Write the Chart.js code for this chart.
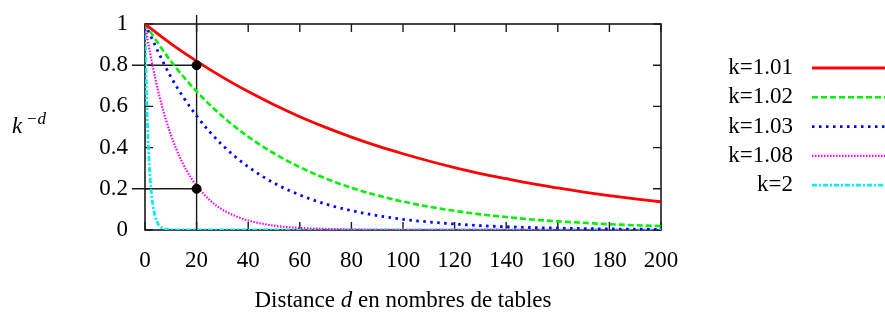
<!DOCTYPE html>
<html>
<head>
<meta charset="utf-8">
<script src="https://cdn.jsdelivr.net/npm/chart.js@4/dist/chart.umd.min.js"></script>
<style>
  html, body { margin: 0; padding: 0; background: #fff; }
</style>
</head>
<body>
<canvas id="chart" width="885" height="313"></canvas>
<script>
// values
var seriesLabels = ["k=1.01", "k=1.02", "k=1.03", "k=1.08", "k=2"];
var seriesColors = ["#ff0000", "#00f000", "#0000ff", "#ff00ff", "#00f0f0"];

var distCoarse = [0, 10, 20, 30, 40, 50, 60, 70, 80, 90, 100, 110, 120, 130, 140, 150, 160, 170, 180, 190, 200];
var valK101 = [1, 0.905, 0.820, 0.742, 0.672, 0.608, 0.550, 0.498, 0.451, 0.408, 0.370, 0.335, 0.303, 0.274, 0.249, 0.225, 0.204, 0.184, 0.167, 0.151, 0.137];
var valK102 = [1, 0.820, 0.673, 0.552, 0.453, 0.372, 0.305, 0.250, 0.205, 0.168, 0.138, 0.113, 0.093, 0.076, 0.063, 0.051, 0.042, 0.035, 0.028, 0.023, 0.019];
var valK103 = [1, 0.744, 0.554, 0.412, 0.307, 0.228, 0.170, 0.126, 0.094, 0.070, 0.052, 0.039, 0.029, 0.021, 0.016, 0.012, 0.009, 0.007, 0.005, 0.004, 0.003];

var distK108 = [0, 2, 4, 6, 8, 10, 12, 14, 16, 18, 20, 25, 30, 35, 40, 50, 60, 70, 80, 100, 200];
var valK108 = [1, 0.857, 0.735, 0.630, 0.540, 0.463, 0.397, 0.340, 0.292, 0.250, 0.215, 0.146, 0.099, 0.068, 0.046, 0.021, 0.010, 0.005, 0.002, 0.0005, 0];

var distK2 = [0, 0.5, 1, 1.5, 2, 2.5, 3, 4, 5, 6, 7, 8, 10, 12, 200];
var valK2 = [1, 0.707, 0.5, 0.354, 0.25, 0.177, 0.125, 0.0625, 0.031, 0.016, 0.008, 0.004, 0.001, 0.0002, 0];

// highlighted points
var markerD = [20, 20];
var markerK = [0.8, 0.2];

var xMin = 0, xMax = 200, xStep = 20;
var yMin = 0, yMax = 1, yStep = 0.2;

var serif = '"Liberation Serif", "Times New Roman", serif';
var fontPx = 23;

function pts(xs, ys) {
	return xs.map(function (x, i) { return { x: x, y: ys[i] }; });
}

var curves = [
	{ xs: distCoarse, ys: valK101, dash: [], width: 2.8 },
	{ xs: distCoarse, ys: valK102, dash: [6, 3], width: 2.6 },
	{ xs: distCoarse, ys: valK103, dash: [2.5, 4.5], width: 2.8 },
	{ xs: distK108, ys: valK108, dash: [1.5, 1.5], width: 2.2 },
	{ xs: distK2, ys: valK2, dash: [5, 2, 2, 2], width: 2.8 }
];

var datasets = curves.map(function (c, i) {
	return {
		label: seriesLabels[i],
		data: pts(c.xs, c.ys),
		showLine: true,
		borderColor: seriesColors[i],
		backgroundColor: seriesColors[i],
		borderWidth: c.width,
		borderDash: c.dash,
		pointRadius: 0,
		cubicInterpolationMode: "monotone",
		fill: false,
		order: 1
	};
});

datasets.push({
	label: "marker",
	data: pts(markerD, markerK),
	showLine: false,
	pointRadius: 4.5,
	pointBackgroundColor: "#000",
	pointBorderColor: "#000",
	order: 0
});

function noPad(s) {
	s.paddingTop = 0;
	s.paddingBottom = 0;
	s.paddingLeft = 0;
	s.paddingRight = 0;
}

var framePlugin = {
	id: "frame",
	beforeDatasetsDraw: function (chart) {
		var ctx = chart.ctx, a = chart.chartArea;
		var xs = chart.scales.x, ys = chart.scales.y;
		ctx.save();
		ctx.strokeStyle = "#1a1a1a";
		ctx.lineWidth = 1.6;
		ctx.strokeRect(a.left, a.top, a.right - a.left, a.bottom - a.top);

		// inward ticks on all four sides
		ctx.lineWidth = 1.4;
		ctx.beginPath();
		xs.ticks.forEach(function (t) {
			var px = xs.getPixelForValue(t.value);
			ctx.moveTo(px, a.bottom); ctx.lineTo(px, a.bottom - 8);
			ctx.moveTo(px, a.top); ctx.lineTo(px, a.top + 8);
		});
		ys.ticks.forEach(function (t) {
			var py = ys.getPixelForValue(t.value);
			ctx.moveTo(a.left, py); ctx.lineTo(a.left + 8, py);
			ctx.moveTo(a.right, py); ctx.lineTo(a.right - 8, py);
		});
		ctx.stroke();

		// guide lines to the marked points
		ctx.lineWidth = 1.4;
		ctx.beginPath();
		var gx = xs.getPixelForValue(markerD[0]);
		ctx.moveTo(gx, a.top - 9);
		ctx.lineTo(gx, a.bottom);
		markerK.forEach(function (v, i) {
			var py = ys.getPixelForValue(v);
			ctx.moveTo(a.left - 13, py);
			ctx.lineTo(xs.getPixelForValue(markerD[i]), py);
		});
		ctx.stroke();
		ctx.restore();
	},
	afterDraw: function (chart) {
		var ctx = chart.ctx, a = chart.chartArea;
		ctx.save();
		ctx.fillStyle = "#000";
		ctx.textBaseline = "alphabetic";

		// x title with italic d
		var parts = [
			{ t: "Distance ", f: fontPx + "px " + serif },
			{ t: "d", f: "italic " + fontPx + "px " + serif },
			{ t: " en nombres de tables", f: fontPx + "px " + serif }
		];
		var total = 0;
		parts.forEach(function (p) { ctx.font = p.f; p.w = ctx.measureText(p.t).width; total += p.w; });
		var x = (a.left + a.right) / 2 - total / 2;
		ctx.textAlign = "left";
		parts.forEach(function (p) { ctx.font = p.f; ctx.fillText(p.t, x, 307); x += p.w; });

		// y title k^-d
		ctx.font = "italic " + fontPx + "px " + serif;
		ctx.fillText("k", 12, 133);
		ctx.font = "17px " + serif;
		ctx.fillText("\u2212", 27, 124);
		var mw = ctx.measureText("\u2212").width;
		ctx.font = "italic 17px " + serif;
		ctx.fillText("d", 27 + mw + 1, 124);

		// legend on the right
		chart.data.datasets.forEach(function (ds, i) {
			if (ds.label === "marker") return;
			var y = 68 + i * 29.3;
			ctx.font = fontPx + "px " + serif;
			ctx.textAlign = "right";
			ctx.textBaseline = "middle";
			ctx.fillStyle = "#000";
			ctx.fillText(ds.label, 793, y);
			ctx.strokeStyle = ds.borderColor;
			ctx.lineWidth = ds.borderWidth;
			ctx.setLineDash(ds.borderDash);
			ctx.beginPath();
			ctx.moveTo(812, y);
			ctx.lineTo(885, y);
			ctx.stroke();
			ctx.setLineDash([]);
		});
		ctx.restore();
	}
};

var chart = new Chart(document.getElementById("chart"), {
	type: "scatter",
	data: { datasets: datasets },
	options: {
		responsive: false,
		animation: false,
		layout: { padding: { left: 0, top: 24, right: 224, bottom: 0 } },
		plugins: {
			legend: { display: false },
			tooltip: { enabled: false }
		},
		scales: {
			x: {
				type: "linear",
				min: xMin,
				max: xMax,
				grid: { display: false, drawTicks: false },
				border: { display: false },
				ticks: { stepSize: xStep, color: "#000", padding: 17, font: { family: serif, size: fontPx } },
				afterFit: function (s) { s.height = 83; noPad(s); }
			},
			y: {
				type: "linear",
				min: yMin,
				max: yMax,
				grid: { display: false, drawTicks: false },
				border: { display: false },
				ticks: {
					stepSize: yStep,
					color: "#000",
					padding: 17,
					font: { family: serif, size: fontPx },
					callback: function (v) { return String(+v.toFixed(1)); }
				},
				afterFit: function (s) { s.width = 145; noPad(s); }
			}
		}
	},
	plugins: [framePlugin]
});
</script>
</body>
</html>
